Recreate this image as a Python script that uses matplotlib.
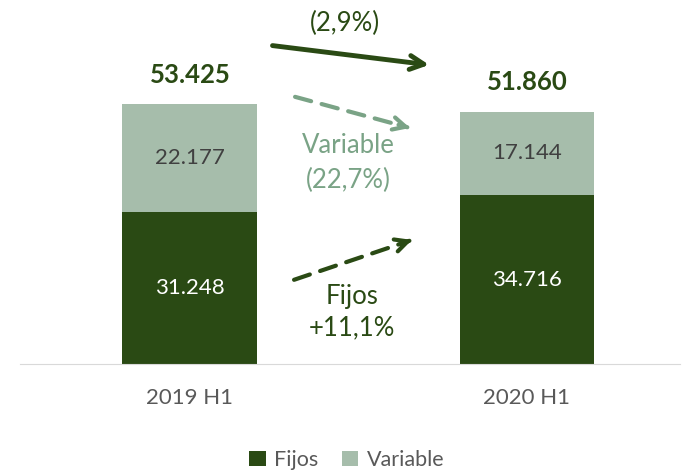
import numpy as np
import matplotlib.pyplot as plt

periods = ["2019 H1", "2020 H1"]
fijos = [31248, 34716]
variable = [22177, 17144]
totals = [53425, 51860]

def fmt(v):
    return "{:,}".format(v).replace(",", ".")

DARK = "#2a4a14"
LIGHT = "#a6bdab"
MID = "#7aa386"

plt.rcParams["font.family"] = ["Lato", "DejaVu Sans"]

fig = plt.figure(figsize=(6.88, 4.72), dpi=100)
ax = fig.add_axes([20 / 688, 108 / 472, 660 / 688, 364 / 472])

x = np.arange(len(periods))
ax.bar(x, fijos, width=0.40, color=DARK, label="Fijos")
ax.bar(x, variable, width=0.40, bottom=fijos, color=LIGHT, label="Variable")

for i in range(len(x)):
    ax.text(x[i], fijos[i] / 2, fmt(fijos[i]), ha="center", va="center",
            color="white", fontsize=16)
    ax.text(x[i], fijos[i] + variable[i] / 2, fmt(variable[i]), ha="center",
            va="center", color="#404040", fontsize=16)
    ax.annotate(fmt(totals[i]), (x[i], totals[i]), xytext=(0, 21),
                textcoords="offset points", ha="center", va="center",
                color=DARK, fontsize=18.5, fontweight="bold")


def dashed_arrow(start, end, color):
    # dashed shaft plus a solid open head
    ax.annotate("", xy=end, xytext=start,
                arrowprops=dict(arrowstyle="-", color=color, lw=3,
                                linestyle=(0, (4, 2.6)), shrinkA=0, shrinkB=2))
    near = (start[0] + 0.9 * (end[0] - start[0]), start[1] + 0.9 * (end[1] - start[1]))
    ax.annotate("", xy=end, xytext=near,
                arrowprops=dict(arrowstyle="->,head_length=0.9,head_width=0.45",
                                color=color, lw=3, shrinkA=0, shrinkB=0))


# change arrows
ax.annotate("", xy=(0.718, 61400), xytext=(0.237, 65500),
            arrowprops=dict(arrowstyle="->,head_length=1.0,head_width=0.5",
                            color=DARK, lw=3.5))
dashed_arrow((0.312, 54900), (0.653, 48500), MID)
dashed_arrow((0.309, 17300), (0.659, 25500), DARK)

ax.text(0.46, 69900, "(2,9%)", ha="center", va="center", color=DARK, fontsize=18.5)
ax.text(0.47, 44800, "Variable", ha="center", va="center", color=MID, fontsize=18.5)
ax.text(0.47, 37800, "(22,7%)", ha="center", va="center", color=MID, fontsize=18.5)
ax.text(0.48, 13800, "Fijos", ha="center", va="center", color=DARK, fontsize=18.5)
ax.text(0.48, 7400, "+11,1%", ha="center", va="center", color=DARK, fontsize=18.5)

ax.set_xlim(-0.504, 1.454)
ax.set_ylim(0, 74800)
ax.set_xticks(x)
ax.set_xticklabels(periods, color="#595959", fontsize=16)
ax.tick_params(axis="x", length=0, pad=17)
ax.set_yticks([])
for s in ["top", "left", "right"]:
    ax.spines[s].set_visible(False)
ax.spines["bottom"].set_color("#d9d9d9")

leg = fig.legend(loc="center", bbox_to_anchor=(347 / 688, 1 - 460 / 472), ncol=2,
                 frameon=False, fontsize=15.5, handlelength=0.75, handleheight=0.75,
                 handletextpad=0.4, columnspacing=1.1)
for t in leg.get_texts():
    t.set_color("#595959")

fig.savefig("out.png", dpi=100)
